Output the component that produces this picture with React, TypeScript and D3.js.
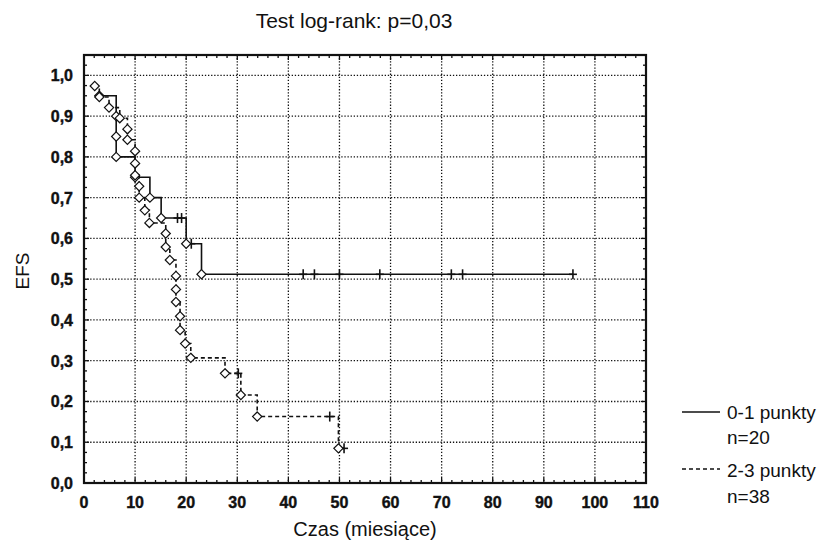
import React from 'react';
import * as d3 from 'd3';

// Kaplan-Meier data (time in months, EFS after each event)
const groupATimes = [3.0, 6.3, 6.3, 6.3, 10.0, 12.9, 15.1, 20.0, 23.0];
const groupASurv = [0.95, 0.9, 0.85, 0.8, 0.75, 0.7, 0.65, 0.587, 0.512];
const groupACensored = [18.3, 19.1, 21.0, 42.9, 45.1, 50.0, 57.9, 71.9, 74.1, 95.7];

const groupBTimes = [
  2.1, 3.0, 4.9, 7.0, 8.5, 8.5, 10.0, 10.0, 10.0, 10.8, 10.8, 11.9, 12.8,
  16.0, 16.0, 16.8, 18.0, 18.0, 18.0, 18.8, 18.8, 19.8, 20.9, 27.6, 30.7, 33.9, 49.8,
];
const groupBSurv = [
  0.974, 0.947, 0.921, 0.895, 0.868, 0.842, 0.814, 0.784, 0.755, 0.728, 0.7, 0.669, 0.638,
  0.612, 0.579, 0.547, 0.508, 0.475, 0.444, 0.409, 0.375, 0.342, 0.307, 0.269, 0.216, 0.163, 0.085,
];
const groupBCensored = [30.2, 48.1, 50.9];

const xTicks = [0, 10, 20, 30, 40, 50, 60, 70, 80, 90, 100, 110];
const yTicks = [0, 0.1, 0.2, 0.3, 0.4, 0.5, 0.6, 0.7, 0.8, 0.9, 1.0];

const legendLabels = ['0-1 punkty', 'n=20', '2-3 punkty', 'n=38'];

const width = 822;
const height = 547;
const margin = { top: 55, right: 176, bottom: 64, left: 84 };

const x = d3.scaleLinear().domain([0, 110]).range([margin.left, width - margin.right]);
const y = d3.scaleLinear().domain([0, 1.05]).range([height - margin.bottom, margin.top]);

const fmt = (v: number) => d3.format('.1f')(v).replace('.', ',');

// survival value of a step curve at time t
const survAt = (times: number[], surv: number[], t: number) => {
  let s = 1;
  times.forEach((tt, i) => {
    if (tt <= t) s = surv[i];
  });
  return s;
};

const stepPath = (times: number[], surv: number[], censored: number[]) => {
  const end = Math.max(times[times.length - 1], d3.max(censored) || 0);
  let d = `M${x(times[0])},${y(surv[0])}`;
  for (let i = 1; i < times.length; i++) {
    d += `H${x(times[i])}V${y(surv[i])}`;
  }
  d += `H${x(end)}`;
  return d;
};

const diamond = 'M0,-4.6L4.6,0L0,4.6L-4.6,0Z';

const Curve = ({ times, surv, censored, dash }) => (
  <g>
    <path
      d={stepPath(times, surv, censored)}
      fill="none"
      stroke="#111"
      strokeWidth={1.6}
      strokeDasharray={dash ? '4,3' : undefined}
    />
    {censored.map((t, i) => {
      const cx = x(t);
      const cy = y(survAt(times, surv, t));
      return (
        <g key={'c' + i} stroke="#111" strokeWidth={1.6}>
          <line x1={cx} x2={cx} y1={cy - 5} y2={cy + 5} />
          <line x1={cx - 4} x2={cx + 4} y1={cy} y2={cy} />
        </g>
      );
    })}
    {times.map((t, i) => (
      <path
        key={'d' + i}
        d={diamond}
        transform={`translate(${x(t)},${y(surv[i])})`}
        fill="#fff"
        stroke="#111"
        strokeWidth={1.2}
      />
    ))}
  </g>
);

export default function App() {
  const x0 = x(0);
  const x1 = x(110);
  const y0 = y(0);
  const y1 = y(1.05);
  const xMinor = d3.range(0, 111, 2);
  const yMinor = d3.range(0, 1.0501, 0.025);
  const font = '"Liberation Sans", Arial, sans-serif';

  return (
    <svg
      width={width}
      height={height}
      style={{ position: 'absolute', left: 0, top: 0, background: '#fff' }}
      fontFamily={font}
    >
      <rect width={width} height={height} fill="#fff" />
      <text x={354} y={28} textAnchor="middle" fontSize={21} fill="#111">
        Test log-rank: p=0,03
      </text>

      {/* dotted grid */}
      <g stroke="#111" strokeWidth={1.3} strokeDasharray="1.3,1.8">
        {xTicks.slice(1, -1).map((t) => (
          <line key={'gx' + t} x1={x(t)} x2={x(t)} y1={y1} y2={y0} />
        ))}
        {yTicks.slice(1).map((t) => (
          <line key={'gy' + t} x1={x0} x2={x1} y1={y(t)} y2={y(t)} />
        ))}
      </g>

      <Curve times={groupATimes} surv={groupASurv} censored={groupACensored} dash={false} />
      <Curve times={groupBTimes} surv={groupBSurv} censored={groupBCensored} dash={true} />

      {/* frame with inward ticks */}
      <g stroke="#111" strokeWidth={1.3}>
        {xMinor.map((t) => {
          const len = t % 10 === 0 ? 5 : 3;
          return (
            <g key={'tx' + t}>
              <line x1={x(t)} x2={x(t)} y1={y0} y2={y0 - len} />
              <line x1={x(t)} x2={x(t)} y1={y1} y2={y1 + len} />
            </g>
          );
        })}
        {yMinor.map((t, i) => {
          const len = i % 4 === 0 ? 5 : 3;
          return (
            <g key={'ty' + i}>
              <line x1={x0} x2={x0 + len} y1={y(t)} y2={y(t)} />
              <line x1={x1} x2={x1 - len} y1={y(t)} y2={y(t)} />
            </g>
          );
        })}
      </g>
      <rect x={x0} y={y1} width={x1 - x0} height={y0 - y1} fill="none" stroke="#111" strokeWidth={2.2} />

      <g fontSize={16} fontWeight="bold" fill="#111" stroke="#111" strokeWidth={0.4}>
        {yTicks.map((t) => (
          <text key={'ly' + t} x={x0 - 11} y={y(t) + 6} textAnchor="end">
            {fmt(t)}
          </text>
        ))}
        {xTicks.map((t) => (
          <text key={'lx' + t} x={x(t)} y={y0 + 25} textAnchor="middle">
            {t}
          </text>
        ))}
      </g>

      <text x={365} y={536} textAnchor="middle" fontSize={20} fill="#111">
        Czas (miesiące)
      </text>
      <text
        transform={`translate(29,${y(0.52)}) rotate(-90)`}
        textAnchor="middle"
        fontSize={19}
        fill="#111"
      >
        EFS
      </text>

      {/* legend */}
      <g fontSize={19} fill="#111">
        <line x1={682} x2={720} y1={412} y2={412} stroke="#111" strokeWidth={1.6} />
        <text x={727} y={419}>{legendLabels[0]}</text>
        <text x={727} y={444}>{legendLabels[1]}</text>
        <line x1={682} x2={720} y1={469} y2={469} stroke="#111" strokeWidth={1.6} strokeDasharray="4,3" />
        <text x={727} y={477}>{legendLabels[2]}</text>
        <text x={727} y={503}>{legendLabels[3]}</text>
      </g>
    </svg>
  );
}
